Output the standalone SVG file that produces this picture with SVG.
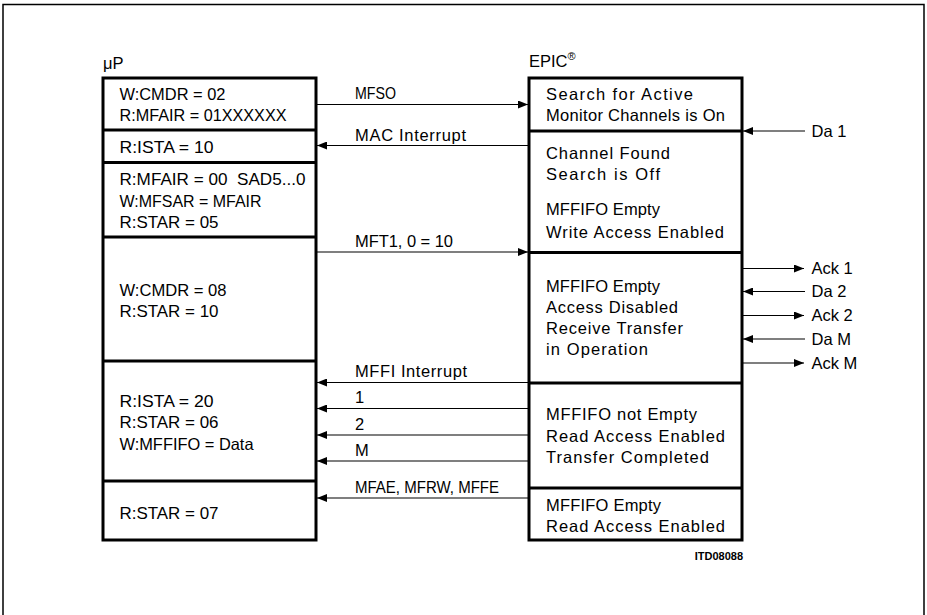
<svg xmlns="http://www.w3.org/2000/svg" width="927" height="615" viewBox="0 0 927 615">
<defs>
<marker id="ah" viewBox="0 0 10 8" refX="10" refY="4" markerWidth="10" markerHeight="8" markerUnits="userSpaceOnUse" orient="auto">
<path d="M0,0 L10,4 L0,8 Z" fill="#000"/>
</marker>
</defs>
<style>
text{font-family:"Liberation Sans",Arial,sans-serif;font-size:16.5px;fill:#000;white-space:pre}
.box{fill:#fff;stroke:#000;stroke-width:3}
.div{stroke:#000;stroke-width:3}
.con{stroke:#000;stroke-width:1.2;fill:none;marker-end:url(#ah)}
.frame{fill:none;stroke:#000;stroke-width:1.5}
.small{font-size:11px;font-weight:bold}
</style>
<rect width="927" height="615" fill="#fff"/>
<path class="frame" d="M3,615 V4.5 H924 V615"/>
<text x="103" y="69">μP</text>
<text x="529" y="67">EPIC<tspan font-size="11px" dy="-7">®</tspan></text>
<g id="up">
<rect class="box" x="103" y="78" width="213" height="462"/>
<line class="div" x1="103" y1="130" x2="316" y2="130"/>
<line class="div" x1="103" y1="162.5" x2="316" y2="162.5"/>
<line class="div" x1="103" y1="237" x2="316" y2="237"/>
<line class="div" x1="103" y1="361" x2="316" y2="361"/>
<line class="div" x1="103" y1="481" x2="316" y2="481"/>
</g>
<g id="up-1"><text x="119.5" y="100" textLength="106" lengthAdjust="spacingAndGlyphs">W:CMDR = 02</text><text x="119.5" y="121" textLength="167" lengthAdjust="spacingAndGlyphs">R:MFAIR = 01XXXXXX</text></g>
<g id="up-2"><text x="119.5" y="153" textLength="94" lengthAdjust="spacingAndGlyphs">R:ISTA = 10</text></g>
<g id="up-3"><text x="119.5" y="185" textLength="186" lengthAdjust="spacingAndGlyphs">R:MFAIR = 00  SAD5...0</text><text x="119.5" y="206.5" textLength="142" lengthAdjust="spacingAndGlyphs">W:MFSAR = MFAIR</text><text x="119.5" y="227.5" textLength="99" lengthAdjust="spacingAndGlyphs">R:STAR = 05</text></g>
<g id="up-4"><text x="119.5" y="296" textLength="107" lengthAdjust="spacingAndGlyphs">W:CMDR = 08</text><text x="119.5" y="317" textLength="99" lengthAdjust="spacingAndGlyphs">R:STAR = 10</text></g>
<g id="up-5"><text x="119.5" y="406.5" textLength="94" lengthAdjust="spacingAndGlyphs">R:ISTA = 20</text><text x="119.5" y="428" textLength="99" lengthAdjust="spacingAndGlyphs">R:STAR = 06</text><text x="119.5" y="450" textLength="134" lengthAdjust="spacingAndGlyphs">W:MFFIFO = Data</text></g>
<g id="up-6"><text x="119.5" y="519" textLength="99" lengthAdjust="spacingAndGlyphs">R:STAR = 07</text></g>
<g id="epic">
<rect class="box" x="529" y="78" width="213" height="462"/>
<line class="div" x1="529" y1="131" x2="742" y2="131"/>
<line class="div" x1="529" y1="252.5" x2="742" y2="252.5"/>
<line class="div" x1="529" y1="383" x2="742" y2="383"/>
<line class="div" x1="529" y1="488" x2="742" y2="488"/>
</g>
<g id="epic-1"><text x="546" y="100" textLength="147" lengthAdjust="spacing">Search for Active</text><text x="546" y="121" textLength="179" lengthAdjust="spacing">Monitor Channels is On</text></g>
<g id="epic-2"><text x="546" y="159" textLength="124" lengthAdjust="spacing">Channel Found</text><text x="546" y="180" textLength="114" lengthAdjust="spacing">Search is Off</text><text x="546" y="215" textLength="114" lengthAdjust="spacing">MFFIFO Empty</text><text x="546" y="237.5" textLength="178" lengthAdjust="spacing">Write Access Enabled</text></g>
<g id="epic-3"><text x="546" y="291.5" textLength="114" lengthAdjust="spacing">MFFIFO Empty</text><text x="546" y="312.5" textLength="132" lengthAdjust="spacing">Access Disabled</text><text x="546" y="333.5" textLength="137" lengthAdjust="spacing">Receive Transfer</text><text x="546" y="354.5" textLength="102" lengthAdjust="spacing">in Operation</text></g>
<g id="epic-4"><text x="546" y="420" textLength="151" lengthAdjust="spacing">MFFIFO not Empty</text><text x="546" y="441.5" textLength="179" lengthAdjust="spacing">Read Access Enabled</text><text x="546" y="462.5" textLength="163" lengthAdjust="spacing">Transfer Completed</text></g>
<g id="epic-5"><text x="546" y="510.5" textLength="115" lengthAdjust="spacing">MFFIFO Empty</text><text x="546" y="531.5" textLength="179" lengthAdjust="spacing">Read Access Enabled</text></g>
<g id="connectors">
<line class="con" x1="316" y1="104.5" x2="528" y2="104.5"/>
<line class="con" x1="528" y1="145.5" x2="317" y2="145.5"/>
<line class="con" x1="316" y1="252" x2="528" y2="252"/>
<line class="con" x1="528" y1="382.5" x2="317" y2="382.5"/>
<line class="con" x1="528" y1="408.5" x2="317" y2="408.5"/>
<line class="con" x1="528" y1="435" x2="317" y2="435"/>
<line class="con" x1="528" y1="461" x2="317" y2="461"/>
<line class="con" x1="528" y1="498" x2="317" y2="498"/>
<line class="con" x1="805" y1="131" x2="743" y2="131"/>
<line class="con" x1="742" y1="268.5" x2="804" y2="268.5"/>
<line class="con" x1="805" y1="291.5" x2="743" y2="291.5"/>
<line class="con" x1="742" y1="315.5" x2="804" y2="315.5"/>
<line class="con" x1="805" y1="339" x2="743" y2="339"/>
<line class="con" x1="742" y1="363" x2="804" y2="363"/>
<text x="355" y="99" textLength="41" lengthAdjust="spacingAndGlyphs">MFSO</text>
<text x="355" y="141" textLength="111" lengthAdjust="spacing">MAC Interrupt</text>
<text x="355" y="246.5" textLength="98" lengthAdjust="spacing">MFT1, 0 = 10</text>
<text x="355" y="377" textLength="112" lengthAdjust="spacing">MFFI Interrupt</text>
<text x="355" y="403">1</text>
<text x="355" y="430">2</text>
<text x="355" y="456">M</text>
<text x="355" y="493" textLength="144" lengthAdjust="spacingAndGlyphs">MFAE, MFRW, MFFE</text>
<text x="811.5" y="137">Da 1</text>
<text x="811.5" y="274">Ack 1</text>
<text x="811.5" y="297">Da 2</text>
<text x="811.5" y="321">Ack 2</text>
<text x="811.5" y="344.5">Da M</text>
<text x="811.5" y="368.5">Ack M</text>
</g>
<text class="small" x="743" y="559.5" text-anchor="end">ITD08088</text>
</svg>
